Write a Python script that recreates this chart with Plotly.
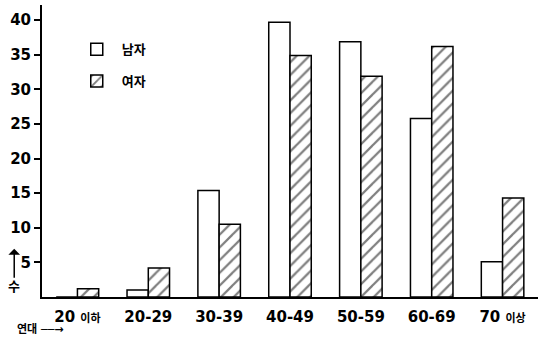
import plotly.graph_objects as go

categories = ["20 이하", "20-29", "30-39", "40-49", "50-59", "60-69", "70 이상"]
tick_labels = [
    "20 <span style='font-size:11px'>이하</span>",
    "20-29", "30-39", "40-49", "50-59", "60-69",
    "70 <span style='font-size:11px'>이상</span>",
]
male = [0, 1, 15.4, 39.7, 36.9, 25.8, 5.1]
female = [1.2, 4.2, 10.5, 34.9, 31.9, 36.2, 14.3]
y_ticks = [5, 10, 15, 20, 25, 30, 35, 40]

FONT = "DejaVu Sans, Noto Sans CJK KR, sans-serif"

fig = go.Figure()
fig.add_trace(go.Bar(
    x=categories, y=male, name="남자", legendgroup="m",
    marker=dict(color="white", line=dict(color="black", width=1.5)),
))
fig.add_trace(go.Bar(
    x=categories, y=female, name="여자", legendgroup="f",
    marker=dict(color="white", line=dict(color="black", width=1.5),
                pattern=dict(shape="/", fgcolor="black", bgcolor="white",
                             size=9, solidity=0.25)),
))

fig.update_layout(
    width=547, height=337,
    margin=dict(l=42, r=9, t=5, b=40),
    paper_bgcolor="white", plot_bgcolor="white",
    barmode="group", bargap=0.4, bargroupgap=0,
    font=dict(family=FONT, color="black", size=14),
    showlegend=True,
    legend=dict(x=0.06, y=0.9, xanchor="left", yanchor="top",
                bgcolor="rgba(0,0,0,0)",
                font=dict(size=13, family=FONT, weight="bold"),
                itemwidth=40, tracegroupgap=12),
    xaxis=dict(type="category", categoryorder="array", categoryarray=categories,
               tickmode="array", tickvals=categories, ticktext=tick_labels,
               showline=True, linecolor="black", linewidth=2,
               ticks="", showgrid=False, zeroline=False,
               ticklabelstandoff=5,
               tickfont=dict(size=15, family=FONT, weight="bold")),
    yaxis=dict(range=[0, 42.2], tickmode="array", tickvals=y_ticks,
               showline=True, linecolor="black", linewidth=2,
               ticks="outside", ticklen=6, tickwidth=1.5, tickcolor="black",
               showgrid=False, zeroline=False,
               tickfont=dict(size=15, family=FONT, weight="bold")),
)

fig.add_annotation(
    xref="paper", yref="paper", x=-0.056, y=0.165, ax=0, ay=38,
    text="수", showarrow=True, arrowhead=1, arrowsize=1.3, arrowwidth=1.5,
    arrowcolor="black", font=dict(size=13, family=FONT, weight="bold"),
)
fig.add_annotation(
    xref="paper", yref="paper", x=-0.055, y=-0.11, xanchor="left", yanchor="middle",
    text="연대 ──→", showarrow=False, font=dict(size=11, family=FONT, weight="bold"),
)

fig.write_html("out.html", config={"displayModeBar": False},
               post_script="document.body.style.margin='0';document.body.style.padding='0';")
